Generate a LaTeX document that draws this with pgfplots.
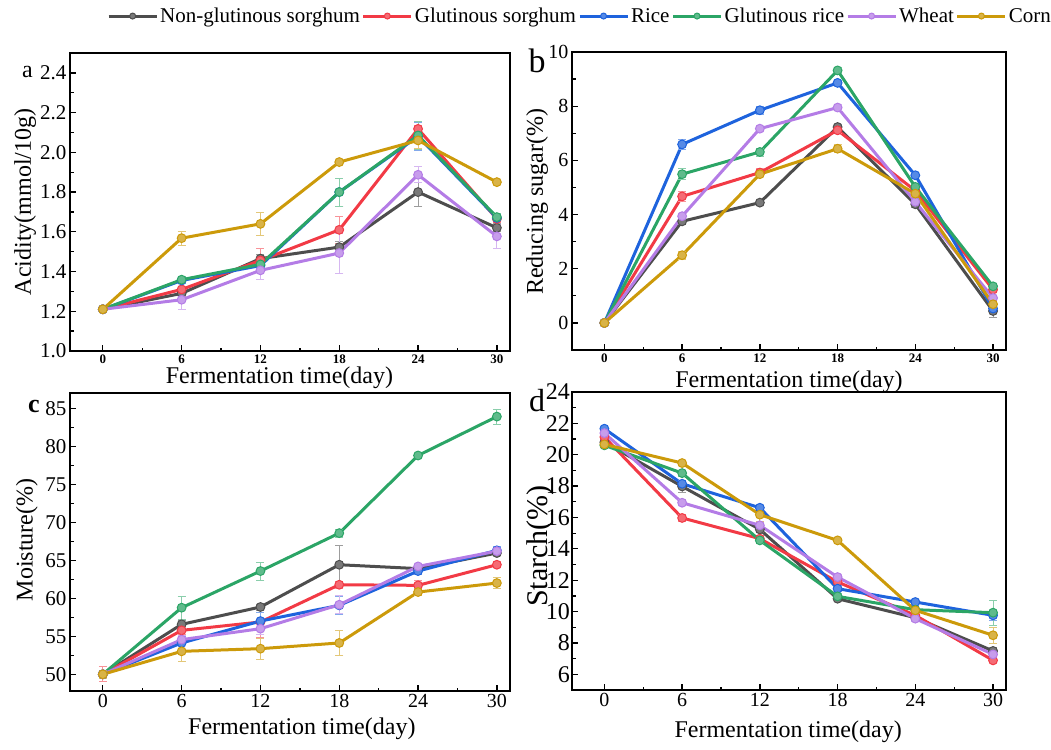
\documentclass[border=0pt]{standalone}
\usepackage{fontspec}
\setmainfont{Liberation Serif}
\usepackage{pgfplots}
\pgfplotsset{compat=1.18}
\usepackage{pgfplotstable}

\definecolor{cg}{HTML}{4D4D4D}
\definecolor{cr}{HTML}{F23A45}
\definecolor{cb}{HTML}{1E63DD}
\definecolor{cn}{HTML}{2BA566}
\definecolor{cw}{HTML}{B47CE6}
\definecolor{cc}{HTML}{CC9A0A}

\pgfplotsset{
 panel/.style={scale only axis, anchor=north west, clip=false,
   xmin=-2.5, xmax=31, xtick={0,6,...,30}, minor x tick num=1, minor y tick num=1,
   tick align=inside, xtick pos=left, ytick pos=left,
   axis line style={line width=1.8pt}, major tick length=6pt, minor tick length=3.5pt,
   tick style={black, line width=1.3pt},
   /pgf/number format/assume math mode=true,
   yticklabel style={font=\fontsize{21}{24}\selectfont},
   label style={font=\fontsize{24}{28}\selectfont}},
 ser/.style={color=#1, line width=3pt, mark=*, mark size=4.4pt,
   mark options={fill=#1!75!white, draw=#1, line width=1pt, solid},
   error bars/y dir=both, error bars/y explicit,
   error bars/error bar style={#1!55!white, line width=0.8pt},
   error bars/error mark options={rotate=90, mark size=4pt, line width=0.8pt, #1!55!white}}
}

\pgfplotstableread{
x g ge r re b be n ne w we c ce
0 1.21 0.01 1.21 0.01 1.21 0.01 1.21 0.01 1.21 0.01 1.21 0.01
6 1.29 0.02 1.31 0.03 1.355 0.015 1.359 0.015 1.258 0.05 1.568 0.035
12 1.465 0.02 1.456 0.06 1.43 0.02 1.436 0.02 1.406 0.045 1.64 0.06
18 1.523 0.03 1.61 0.07 1.80 0.07 1.80 0.07 1.493 0.1 1.951 0.01
24 1.80 0.07 2.118 0.02 2.08 0.07 2.085 0.07 1.887 0.04 2.06 0.04
30 1.62 0.02 1.665 0.02 1.67 0.02 1.674 0.02 1.577 0.06 1.85 0.01
}\ta

\pgfplotstableread{
x g ge r re b be n ne w we c ce
0 0 0.05 0 0.05 0 0.05 0 0.05 0 0.05 0 0.05
6 3.75 0.1 4.67 0.2 6.59 0.2 5.49 0.2 3.94 0.1 2.50 0.15
12 4.44 0.1 5.55 0.15 7.85 0.15 6.31 0.15 7.17 0.1 5.49 0.1
18 7.23 0.1 7.11 0.1 8.86 0.1 9.32 0.1 7.95 0.1 6.43 0.15
24 4.38 0.1 4.88 0.1 5.45 0.1 5.02 0.1 4.47 0.1 4.77 0.1
30 0.44 0.25 1.23 0.1 0.53 0.1 1.35 0.1 0.92 0.1 0.69 0.15
}\tb

\pgfplotstableread{
x g ge r re b be n ne w we c ce
0 50 0.3 50 1.0 50 0.3 50 0.3 50 0.3 50 0.5
6 56.57 0.5 55.78 0.5 54.12 0.8 58.76 1.5 54.56 0.6 53.02 1.3
12 58.85 0.4 56.88 2.0 57.0 1.2 63.58 1.2 56.0 0.8 53.37 1.4
18 64.41 2.5 61.78 0.5 59.07 1.2 68.57 0.5 59.15 1.2 54.12 1.7
24 63.9 0.3 61.7 0.6 63.58 0.4 78.78 0.3 64.19 0.3 60.82 0.4
30 65.95 0.3 64.41 0.4 66.3 0.5 83.9 1.0 66.2 0.4 62.0 0.7
}\tc

\pgfplotstableread{
x g ge r re b be n ne w we c ce
0 20.8 0.15 21.13 0.15 21.66 0.15 20.6 0.15 21.38 0.15 20.66 0.15
6 17.98 0.4 15.97 0.2 18.15 0.2 18.83 0.2 16.94 0.2 19.47 0.15
12 15.24 0.2 14.65 0.2 16.62 0.15 14.54 0.2 15.5 0.2 16.18 0.4
18 10.82 0.15 11.89 0.2 11.46 0.2 10.97 0.2 12.2 0.2 14.54 0.1
24 9.61 0.15 9.76 0.15 10.61 0.15 10.12 0.15 9.55 0.15 10.08 0.2
30 7.49 0.2 6.89 0.15 9.76 0.3 9.93 0.8 7.27 0.2 8.49 0.5
}\td

\begin{document}
\begin{tikzpicture}
\useasboundingbox (0pt,0pt) rectangle (1051pt,-749pt);

% panel a
\begin{axis}[panel, at={(70pt,-53pt)}, width=440pt, height=298pt,
  ymin=1.0, ymax=2.5, ytick={1.0,1.2,...,2.45},
  yticklabel style={/pgf/number format/.cd, fixed, fixed zerofill, precision=1},
  xticklabel style={font=\bfseries\fontsize{13}{15}\selectfont},
  xlabel={Fermentation time(day)}, ylabel={Acidity(mmol/10g)},
  xlabel style={at={(axis description cs:0.476,-0.0906)}, anchor=center},
  ylabel style={at={(axis description cs:-0.102,0.5)}, anchor=center},
  legend style={at={(axis description cs:0.084,1.124)}, anchor=west, draw=none, fill=none,
    font=\fontsize{21}{24}\selectfont, inner sep=0pt, nodes={inner sep=2pt},
    /tikz/every even column/.append style={column sep=0pt}},
  legend columns=6,
  legend image code/.code={\draw[mark repeat=2,mark phase=2,mark size=3pt] plot coordinates {(0pt,0pt) (24pt,0pt) (48pt,0pt)};}]
\addplot[ser=cg] table[x=x,y=g,y error=ge]{\ta};
\addplot[ser=cr] table[x=x,y=r,y error=re]{\ta};
\addplot[ser=cb] table[x=x,y=b,y error=be]{\ta};
\addplot[ser=cn] table[x=x,y=n,y error=ne]{\ta};
\addplot[ser=cw] table[x=x,y=w,y error=we]{\ta};
\addplot[ser=cc] table[x=x,y=c,y error=ce]{\ta};
\legend{Non-glutinous sorghum, Glutinous sorghum, Rice, Glutinous rice, Wheat, Corn}
\end{axis}

% panel b
\begin{axis}[panel, at={(572pt,-52pt)}, width=434pt, height=298pt,
  ymin=-1, ymax=10, ytick={0,2,...,10},
  yticklabel style={font=\fontsize{20}{24}\selectfont},
  xticklabel style={font=\bfseries\fontsize{13}{15}\selectfont},
  xlabel={Fermentation time(day)}, ylabel={Reducing sugar(\%)},
  xlabel style={at={(axis description cs:0.5,-0.107)}, anchor=center},
  ylabel style={at={(axis description cs:-0.0806,0.497)}, anchor=center}]
\addplot[ser=cg] table[x=x,y=g,y error=ge]{\tb};
\addplot[ser=cr] table[x=x,y=r,y error=re]{\tb};
\addplot[ser=cb] table[x=x,y=b,y error=be]{\tb};
\addplot[ser=cn] table[x=x,y=n,y error=ne]{\tb};
\addplot[ser=cw] table[x=x,y=w,y error=we]{\tb};
\addplot[ser=cc] table[x=x,y=c,y error=ce]{\tb};
\end{axis}

% panel c
\begin{axis}[panel, at={(70pt,-393pt)}, width=440pt, height=298pt,
  ymin=47.8, ymax=87, ytick={50,55,...,85},
  xticklabel style={font=\fontsize{20}{24}\selectfont},
  xlabel={Fermentation time(day)}, ylabel={Moisture(\%)},
  xlabel style={at={(axis description cs:0.527,-0.1275)}, anchor=center},
  ylabel style={at={(axis description cs:-0.098,0.507)}, anchor=center}]
\addplot[ser=cg] table[x=x,y=g,y error=ge]{\tc};
\addplot[ser=cr] table[x=x,y=r,y error=re]{\tc};
\addplot[ser=cb] table[x=x,y=b,y error=be]{\tc};
\addplot[ser=cn] table[x=x,y=n,y error=ne]{\tc};
\addplot[ser=cw] table[x=x,y=w,y error=we]{\tc};
\addplot[ser=cc] table[x=x,y=c,y error=ce]{\tc};
\end{axis}

% panel d
\begin{axis}[panel, at={(572pt,-392pt)}, width=434pt, height=298pt,
  ymin=5, ymax=24, ytick={6,8,...,24},
  yticklabel style={font=\fontsize{24}{28}\selectfont, inner sep=2pt},
  xticklabel style={font=\fontsize{20}{24}\selectfont},
  xlabel={Fermentation time(day)}, ylabel={Starch(\%)},
  xlabel style={at={(axis description cs:0.498,-0.141)}, anchor=center},
  ylabel style={at={(axis description cs:-0.074,0.483)}, anchor=center, font=\fontsize{30}{34}\selectfont}]
\addplot[ser=cg] table[x=x,y=g,y error=ge]{\td};
\addplot[ser=cr] table[x=x,y=r,y error=re]{\td};
\addplot[ser=cb] table[x=x,y=b,y error=be]{\td};
\addplot[ser=cn] table[x=x,y=n,y error=ne]{\td};
\addplot[ser=cw] table[x=x,y=w,y error=we]{\td};
\addplot[ser=cc] table[x=x,y=c,y error=ce]{\td};
\end{axis}

\node[font=\fontsize{24}{28}\selectfont] at (27.5pt,-72pt) {a};
\node[font=\fontsize{34}{38}\selectfont] at (537pt,-61pt) {b};
\node[font=\bfseries\fontsize{26}{30}\selectfont] at (34pt,-406pt) {c};
\node[font=\fontsize{32}{36}\selectfont] at (537pt,-401pt) {d};
\end{tikzpicture}
\end{document}
